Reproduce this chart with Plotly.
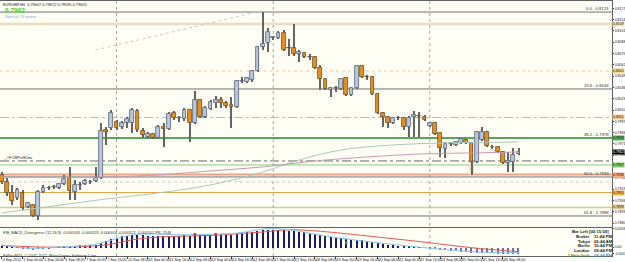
import plotly.graph_objects as go

# ---------------- data ----------------
bar_idx = list(range(100))
time_ticks = list(range(0, 97, 4))
time_labels = ["4 Sep 2012", "5 Sep 00:00", "5 Sep 16:00", "6 Sep 08:00", "7 Sep 00:00",
               "7 Sep 16:00", "10 Sep 08:00", "11 Sep 00:00", "11 Sep 16:00", "12 Sep 08:00",
               "13 Sep 00:00", "13 Sep 16:00", "14 Sep 08:00", "17 Sep 00:00", "17 Sep 16:00",
               "18 Sep 08:00", "19 Sep 00:00", "19 Sep 16:00", "20 Sep 08:00", "21 Sep 00:00",
               "21 Sep 16:00", "24 Sep 08:00", "25 Sep 00:00", "25 Sep 16:00", "26 Sep 08:00"]

opens = [0.79353, 0.79272, 0.79146, 0.79088, 0.79146, 0.78985, 0.79008, 0.78881, 0.79157, 0.79203,
         0.79215, 0.79203, 0.79249, 0.79318, 0.79157, 0.79238, 0.79249, 0.79272, 0.79284, 0.79318,
         0.79870, 0.79893, 0.79962, 0.79905, 0.79951, 0.79951, 0.80089, 0.79859, 0.79790, 0.79824,
         0.79778, 0.79905, 0.79882, 0.80066, 0.80008, 0.79997, 0.80100, 0.79951, 0.80215, 0.80020,
         0.80112, 0.80181, 0.80215, 0.80181, 0.80158, 0.80135, 0.80434, 0.80422, 0.80445, 0.80549,
         0.80825, 0.80871, 0.80928, 0.80928, 0.80986, 0.80813, 0.80813, 0.80744, 0.80756, 0.80710,
         0.80710, 0.80583, 0.80457, 0.80330, 0.80353, 0.80342, 0.80468, 0.80273, 0.80353, 0.80606,
         0.80480, 0.80480, 0.80284, 0.80066, 0.80020, 0.79951, 0.80008, 0.80008, 0.79905, 0.80020,
         0.80031, 0.80020, 0.79916, 0.79951, 0.79836, 0.79652, 0.79709, 0.79698, 0.79721, 0.79755,
         0.79721, 0.79502, 0.79755, 0.79847, 0.79675, 0.79675, 0.79617, 0.79491, 0.79502, 0.79594]
highs = [0.79387, 0.79318, 0.79238, 0.79203, 0.79180, 0.79042, 0.79019, 0.79180, 0.79238, 0.79226,
         0.79238, 0.79261, 0.79353, 0.79445, 0.79295, 0.79272, 0.79307, 0.79295, 0.79445, 0.79951,
         0.79905, 0.80100, 0.79985, 0.79974, 0.80020, 0.80123, 0.80112, 0.79893, 0.79847, 0.79836,
         0.79928, 0.79951, 0.80077, 0.80089, 0.80031, 0.80123, 0.80112, 0.80319, 0.80227, 0.80146,
         0.80215, 0.80261, 0.80250, 0.80204, 0.80250, 0.80445, 0.80480, 0.80480, 0.80560, 0.80836,
         0.81227, 0.81043, 0.80951, 0.81009, 0.81020, 0.80917, 0.81089, 0.80790, 0.80767, 0.80744,
         0.80721, 0.80618, 0.80468, 0.80365, 0.80376, 0.80468, 0.80480, 0.80365, 0.80618, 0.80618,
         0.80503, 0.80491, 0.80296, 0.80077, 0.80031, 0.80020, 0.80031, 0.80020, 0.80031, 0.80089,
         0.80077, 0.80043, 0.79962, 0.79962, 0.79847, 0.79732, 0.79732, 0.79744, 0.79778, 0.79767,
         0.79732, 0.79859, 0.79905, 0.79859, 0.79698, 0.79686, 0.79629, 0.79617, 0.79663, 0.79663]
lows = [0.79249, 0.79111, 0.79008, 0.79065, 0.78950, 0.78973, 0.78870, 0.78835, 0.79146, 0.79180,
        0.79192, 0.79192, 0.79238, 0.79065, 0.79065, 0.79180, 0.79238, 0.79249, 0.79272, 0.79307,
        0.79698, 0.79870, 0.79870, 0.79882, 0.79893, 0.79836, 0.79847, 0.79778, 0.79778, 0.79767,
        0.79767, 0.79675, 0.79870, 0.79985, 0.79962, 0.79974, 0.79732, 0.79939, 0.80008, 0.80008,
        0.80100, 0.80123, 0.80123, 0.80123, 0.79893, 0.80123, 0.80411, 0.80411, 0.80422, 0.80537,
        0.80790, 0.80767, 0.80905, 0.80917, 0.80779, 0.80721, 0.80721, 0.80652, 0.80698, 0.80675,
        0.80572, 0.80330, 0.80330, 0.80250, 0.80307, 0.80330, 0.80261, 0.80261, 0.80342, 0.80468,
        0.80445, 0.80273, 0.80054, 0.79905, 0.79893, 0.79939, 0.79985, 0.79870, 0.79790, 0.79790,
        0.79790, 0.79974, 0.79905, 0.79813, 0.79560, 0.79548, 0.79686, 0.79686, 0.79709, 0.79709,
        0.79353, 0.79491, 0.79744, 0.79675, 0.79652, 0.79606, 0.79479, 0.79387, 0.79387, 0.79583]
closes = [0.79272, 0.79146, 0.79054, 0.79180, 0.78973, 0.79031, 0.78881, 0.79157, 0.79203, 0.79205,
          0.79213, 0.79249, 0.79307, 0.79169, 0.79238, 0.79240, 0.79284, 0.79274, 0.79318, 0.79859,
          0.79847, 0.80066, 0.79893, 0.79951, 0.79997, 0.80100, 0.79870, 0.79813, 0.79824, 0.79778,
          0.79905, 0.79882, 0.80054, 0.80008, 0.80010, 0.80100, 0.79951, 0.80215, 0.80020, 0.80123,
          0.80192, 0.80215, 0.80181, 0.80146, 0.80135, 0.80434, 0.80436, 0.80468, 0.80549, 0.80825,
          0.80859, 0.80997, 0.80940, 0.80986, 0.80790, 0.80811, 0.80744, 0.80767, 0.80710, 0.80708,
          0.80583, 0.80457, 0.80342, 0.80353, 0.80355, 0.80457, 0.80273, 0.80353, 0.80606, 0.80480,
          0.80478, 0.80284, 0.80066, 0.80020, 0.79951, 0.80008, 0.80006, 0.79905, 0.80008, 0.80043,
          0.80029, 0.79985, 0.79951, 0.79824, 0.79663, 0.79709, 0.79707, 0.79732, 0.79767, 0.79721,
          0.79502, 0.79847, 0.79847, 0.79686, 0.79673, 0.79617, 0.79491, 0.79514, 0.79583, 0.79620]

# moving averages (sampled read-outs)
ma_slow_idx = [0, 10, 20, 30, 40, 50, 57, 65, 75, 85, 99]
ma_slow_val = [0.78916, 0.78996, 0.79077, 0.79146, 0.79238, 0.79387, 0.79525, 0.79640, 0.79698, 0.79721, 0.79732]
ma_mid_idx = [0, 20, 30, 40, 50, 60, 70, 80, 90, 99]
ma_mid_val = [0.79330, 0.79330, 0.79353, 0.79399, 0.79445, 0.79514, 0.79560, 0.79594, 0.79606, 0.79617]

# trend line
trend_idx = [18, 50]
trend_val = [0.80790, 0.81243]

# fibonacci levels
fib_names = ["0.0", "23.6", "38.2", "50.0", "61.8"]
fib_prices = [0.81227, 0.80342, 0.79778, 0.79330, 0.78881]

# other horizontal levels
level_prices = [0.81089, 0.80549, 0.80014, 0.79778, 0.79514, 0.79468, 0.79358, 0.79272, 0.79151, 0.78979]
current_price = 0.79620
quote = [0.79607, 0.79622, 0.79595, 0.79620]

# right price scale labels
price_ticks = [0.8127, 0.8114, 0.8101, 0.8088, 0.8075, 0.8062, 0.8049, 0.8036, 0.8023,
               0.8010, 0.7997, 0.7984, 0.7971, 0.7958, 0.7932, 0.7919, 0.7906, 0.7893, 0.7880]

# week separators
week_starts = [22, 52, 82]

# MACD divergence indicator
hist_vals = [0.00035, 0.0003, 0.0002, 0.0001, -0.0002, -0.0003, -0.0004, -0.0003, -0.0002, -0.0001,
             0.0000, 0.0001, 0.0002, 0.0003, 0.0003, 0.0004, 0.0004, 0.0005, 0.0005, 0.0009,
             0.0012, 0.0016, 0.0018, 0.0020, 0.0021, 0.0023, 0.0023, 0.0022, 0.0021, 0.0020,
             0.0020, 0.0020, 0.0021, 0.0021, 0.0021, 0.0022, 0.0021, 0.0023, 0.0023, 0.0023,
             0.0023, 0.0024, 0.0024, 0.0023, 0.0023, 0.0025, 0.0026, 0.0027, 0.0028, 0.0030,
             0.0031, 0.0032, 0.0032, 0.0032, 0.0031, 0.0030, 0.0029, 0.0028, 0.0027, 0.0026,
             0.0025, 0.0023, 0.0021, 0.0019, 0.0018, 0.0017, 0.0015, 0.0014, 0.0014, 0.0013,
             0.0012, 0.0010, 0.0008, 0.0006, 0.0005, 0.0004, 0.0003, 0.0002, 0.0002, 0.0001,
             0.0001, 0.0000, -0.0001, -0.0002, -0.0004, -0.0005, -0.0006, -0.0006, -0.0007, -0.0007,
             -0.0009, -0.0009, -0.0009, -0.0010, -0.0010, -0.0011, -0.0011, -0.0011, -0.0011, -0.0011]
macd_idx = [0, 5, 10, 18, 25, 35, 45, 51, 55, 62, 70, 80, 90, 99]
macd_val = [0.0004, -0.0002, 0.0000, 0.0005, 0.0022, 0.0022, 0.0025, 0.0033, 0.0031, 0.0020, 0.0010, 0.0000, -0.0008, -0.0010]
signal_idx = [0, 10, 20, 25, 30, 40, 50, 55, 60, 70, 80, 90, 99]
signal_val = [0.0003, 0.0000, 0.0004, 0.0013, 0.0018, 0.0021, 0.0027, 0.0031, 0.0029, 0.0020, 0.0010, -0.0001, -0.0008]
div_red_idx = [37, 41]
div_red_val = [0.0023, 0.0023]
div_green_idx = [66]
div_green_val = [0.0008]
ind_ticks = [0.0033, 0.0, -0.0011]

tz_names = ["Broker", "Tokyo", "Berlin", "London", "* New York"]
tz_times = ["11:44 PM", "05:44 AM", "10:44 PM", "09:44 PM", "04:44 PM"]

# ---------------- styles ----------------
W, H = 625, 262
ML, MR, MT, MB = 0, 13, 1, 6
PH = H - MT - MB
PW = W - ML - MR
FONT = "Liberation Sans"
XR = [-0.33, 116.9]
MAIN_RANGE = [0.78760, 0.81354]
IND_RANGE = [-0.001575, 0.0035]
MAIN_DOM = [(H - MB - 226.5) / PH, 1]
IND_DOM = [0, (H - MB - 227.5) / PH]
BODY_W = 0.72
WICK_W = 0.2
MIN_BODY = 0.00003

def py(ypix):
    return (H - MB - ypix) / PH

level_styles = [("#e9dfba", "solid", 2.5, "#efe3b8"), ("#e6cf9a", "dot", 1, "#f0d890"),
                ("#d9b68a", "dashdot", 1, "#f2c890"), ("#3d9c3d", "solid", 1.5, "#4caf50"),
                ("#6a6a6a", "dashdot", 1, None), ("#8cc88c", "solid", 1, "#7ccc6c"),
                ("#eca486", "solid", 2, "#f0a878"), ("#c8c8c8", "dot", 1, None),
                ("#e3a648", "solid", 1, "#f0b050"), ("#d4cc8c", "solid", 1.5, "#e0d090")]

fig = go.Figure()
shapes = []
annotations = []

for p in fib_prices:
    shapes.append(dict(type="line", xref="x domain", yref="y", x0=0, x1=1, y0=p, y1=p,
                       line=dict(color="#707070", width=1), layer="below"))
for p, st in zip(level_prices, level_styles):
    shapes.append(dict(type="line", xref="x domain", yref="y", x0=0, x1=1, y0=p, y1=p,
                       line=dict(color=st[0], width=st[2], dash=st[1]), layer="below"))
for w in week_starts:
    shapes.append(dict(type="line", xref="x", yref="paper", x0=w, x1=w, y0=0, y1=1,
                       line=dict(color="#a4a4a4", width=1, dash="dot"), layer="below"))

fig.add_trace(go.Scatter(x=ma_slow_idx, y=ma_slow_val, mode="lines", line=dict(color="#a9c9b9", width=1, shape="spline"),
                         xaxis="x", yaxis="y", hoverinfo="skip"))
fig.add_trace(go.Scatter(x=ma_mid_idx, y=ma_mid_val, mode="lines", line=dict(color="#c89ab0", width=1, shape="spline"),
                         xaxis="x", yaxis="y", hoverinfo="skip"))
fig.add_trace(go.Scatter(x=trend_idx, y=trend_val, mode="lines", line=dict(color="#c8c8c8", width=1, dash="dot"),
                         xaxis="x", yaxis="y", hoverinfo="skip"))

# shaded wick patch
fig.add_trace(go.Bar(x=[90], y=[lows[90] - closes[90]], base=[closes[90]], width=1.0,
                     marker=dict(color="#fbdcb6", line=dict(width=0)), xaxis="x", yaxis="y", hoverinfo="skip"))

# candles: wicks then bodies
up = [c >= o for o, c in zip(opens, closes)]
fig.add_trace(go.Bar(x=bar_idx, y=[h - l for h, l in zip(highs, lows)], base=lows, width=WICK_W,
                     marker=dict(color="#646464", line=dict(width=0)), xaxis="x", yaxis="y", hoverinfo="skip"))
body_base = [min(o, c) for o, c in zip(opens, closes)]
body_h = [max(abs(c - o), MIN_BODY) for o, c in zip(opens, closes)]
body_fill = ["#b7c7de" if u else "#e8901e" for u in up]
body_line = ["#5a6270" if u else "#6b5030" for u in up]
fig.add_trace(go.Bar(x=bar_idx, y=body_h, base=body_base, width=BODY_W,
                     marker=dict(color=body_fill, line=dict(color=body_line, width=0.8)),
                     xaxis="x", yaxis="y", hoverinfo="skip"))

# indicator
hist_colors = ["#1c1c66" if v >= 0 else "#6f6fa0" for v in hist_vals]
fig.add_trace(go.Bar(x=bar_idx, y=hist_vals, width=0.22, marker=dict(color=hist_colors, line=dict(width=0)),
                     xaxis="x2", yaxis="y2", hoverinfo="skip"))
fig.add_trace(go.Scatter(x=signal_idx, y=signal_val, mode="lines", line=dict(color="#e05858", width=1, shape="spline"),
                         xaxis="x2", yaxis="y2", hoverinfo="skip"))
fig.add_trace(go.Scatter(x=macd_idx, y=macd_val, mode="lines", line=dict(color="#86c4ee", width=1, shape="spline"),
                         xaxis="x2", yaxis="y2", hoverinfo="skip"))
fig.add_trace(go.Scatter(x=div_red_idx, y=div_red_val, mode="markers", marker=dict(color="#e03030", size=3),
                         xaxis="x2", yaxis="y2", hoverinfo="skip"))
fig.add_trace(go.Scatter(x=div_green_idx, y=div_green_val, mode="markers", marker=dict(color="#30b030", size=3),
                         xaxis="x2", yaxis="y2", hoverinfo="skip"))

small = dict(size=4.2, color="#303030", family=FONT)
box_font = dict(size=3.5, color="#202020", family=FONT)
for n, p in zip(fib_names, fib_prices):
    annotations.append(dict(x=(PW - 2) / PW, xref="paper", y=p, yref="y", xanchor="right", yanchor="bottom",
                            text=f"{n} - {p:.4f}", showarrow=False, font=small, borderpad=0))
for p, st in zip(level_prices, level_styles):
    if st[3]:
        annotations.append(dict(x=1, xref="paper", y=p, yref="y", xanchor="left", yanchor="middle",
                                text=f"{p:.4f}", showarrow=False, bgcolor=st[3], font=box_font, borderpad=0))
annotations.append(dict(x=1, xref="paper", y=current_price, yref="y", xanchor="left", yanchor="middle",
                        text=f"{current_price:.4f}", showarrow=False, bgcolor="#000000",
                        font=dict(size=3.5, color="#ffffff", family=FONT), borderpad=0))

annotations.append(dict(x=0.003, xref="paper", y=py(0.8), yref="paper", xanchor="left", yanchor="top",
                        text="EURGBP,H4  " + " ".join(f"{q:.5f}" for q in quote),
                        showarrow=False, font=dict(size=3.9, color="#202020", family=FONT), borderpad=0))
annotations.append(dict(x=0.007, xref="paper", y=py(5.6), yref="paper", xanchor="left", yanchor="top",
                        text=f"<b>{current_price:.4f}</b>", showarrow=False,
                        font=dict(size=6.5, color="#55c83a", family=FONT), borderpad=0))
annotations.append(dict(x=0.006, xref="paper", y=py(13.2), yref="paper", xanchor="left", yanchor="top",
                        text="Spread: 19 points", showarrow=False,
                        font=dict(size=4.0, color="#86acd0", family=FONT), borderpad=0))
annotations.append(dict(x=0.004, xref="paper", y=level_prices[4], yref="y", xanchor="left", yanchor="bottom",
                        text="_#FOBPsHLbo", showarrow=False, font=small, borderpad=0))

annotations.append(dict(x=0.003, xref="paper", y=py(229), yref="paper", xanchor="left", yanchor="top",
                        text="FIB_MACD_Divergence (12,26,9) -0.000543 -0.000529 -0.000014 -0.000521 -0.000501 PR, 2546",
                        showarrow=False, font=dict(size=3.9, color="#303030", family=FONT), borderpad=0))
annotations.append(dict(x=0.003, xref="paper", y=py(251.5), yref="paper", xanchor="left", yanchor="top",
                        text="FxPro MT4, © 2001-2012, MetaQuotes Software Corp.",
                        showarrow=False, font=dict(size=3.9, color="#303030", family=FONT), borderpad=0))
annotations.append(dict(x=(PW - 2) / PW, xref="paper", y=py(227.5), yref="paper", xanchor="right", yanchor="top",
                        text="<b>Bar Left [00:15:59]</b>", showarrow=False,
                        font=dict(size=4.2, color="#202020", family=FONT), borderpad=0))
for i, (n, t) in enumerate(zip(tz_names, tz_times)):
    yy = py(232.8 + i * 4.8)
    ncol = "#2a9a2a" if n.startswith("*") else "#202020"
    tcol = "#4a7ec0" if n.startswith("*") else "#202020"
    annotations.append(dict(x=(PW - 21) / PW, xref="paper", y=yy, yref="paper", xanchor="right", yanchor="top",
                            text=f"<b>{n}</b>", showarrow=False, font=dict(size=4.2, color=ncol, family=FONT), borderpad=0))
    annotations.append(dict(x=(PW - 19) / PW, xref="paper", y=yy, yref="paper", xanchor="left", yanchor="top",
                            text=f"<b>{t}</b>", showarrow=False, font=dict(size=4.2, color=tcol, family=FONT), borderpad=0))

axis_font = dict(size=3.5, color="#101010", family=FONT)
fig.update_layout(
    width=W, height=H, margin=dict(l=ML, r=MR, t=MT, b=MB, autoexpand=False),
    paper_bgcolor="#ffffff", plot_bgcolor="#fefef5",
    showlegend=False, bargap=0, barmode="overlay",
    shapes=shapes, annotations=annotations,
    xaxis=dict(domain=[0, 1], anchor="y", range=XR, showgrid=False, zeroline=False,
               showticklabels=False, showline=True, linecolor="#606060", linewidth=1, mirror=True,
               fixedrange=True, automargin=False),
    yaxis=dict(domain=MAIN_DOM, anchor="x", side="right", range=MAIN_RANGE, showgrid=False, zeroline=False,
               tickmode="array", tickvals=price_ticks, tickformat=".4f", ticks="outside", ticklen=1,
               tickcolor="#404040", tickfont=axis_font, showline=True, linecolor="#606060", linewidth=1,
               automargin=False),
    xaxis2=dict(domain=[0, 1], anchor="y2", range=XR, showgrid=False, zeroline=False,
                tickmode="array", tickvals=time_ticks, ticktext=time_labels, ticks="outside", ticklen=2,
                tickcolor="#404040", tickfont=dict(size=3.6, color="#101010", family=FONT),
                ticklabelposition="outside right", tickangle=0, automargin=False,
                showline=True, linecolor="#606060", linewidth=1, mirror=True),
    yaxis2=dict(domain=IND_DOM, anchor="x2", side="right", range=IND_RANGE, showgrid=False, zeroline=False,
                tickmode="array", tickvals=ind_ticks, ticktext=[f"{v:.4f}" if v else "0.00" for v in ind_ticks],
                ticks="outside", ticklen=1, tickcolor="#404040", tickfont=axis_font, automargin=False,
                showline=True, linecolor="#606060", linewidth=1),
)

fig.write_html("out.html")
